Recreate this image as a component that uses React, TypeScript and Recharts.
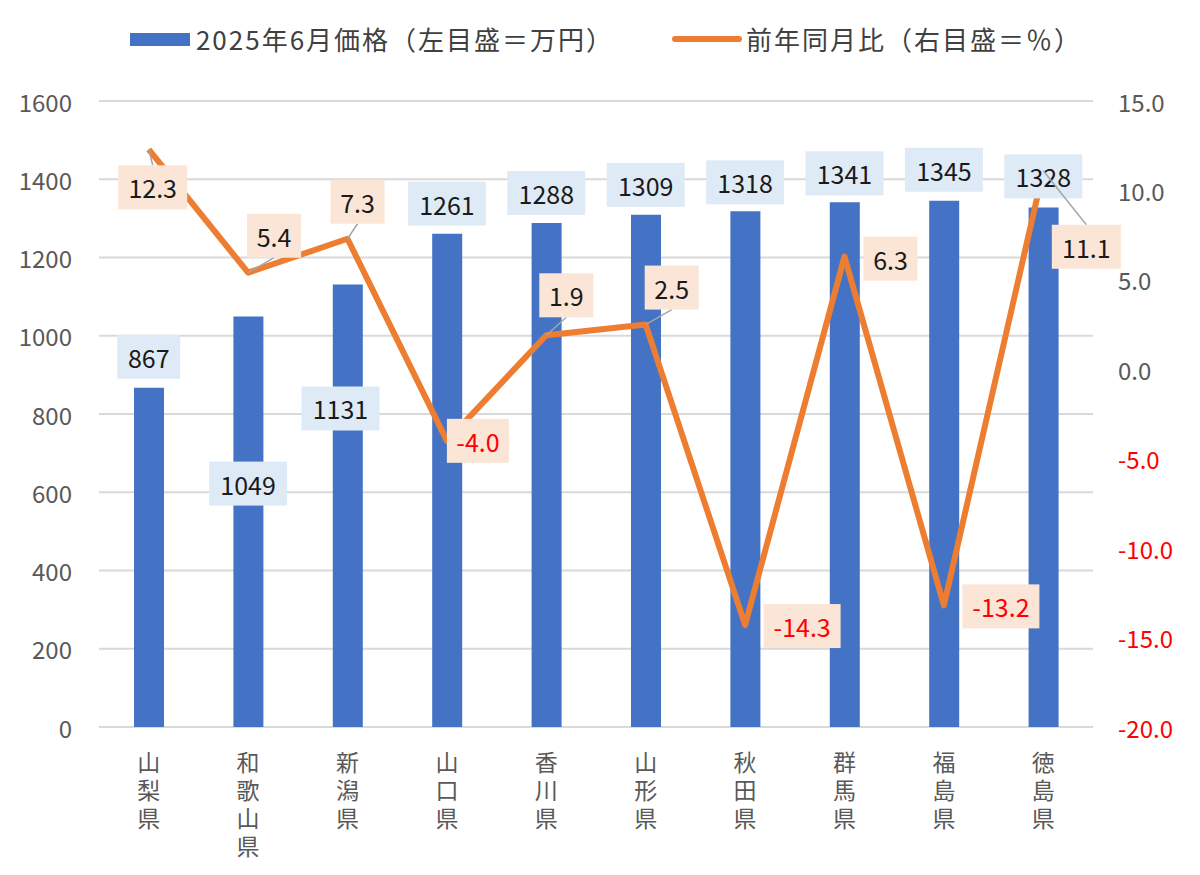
import { ComposedChart, Bar, Line, XAxis, YAxis, CartesianGrid, Legend, LabelList } from "recharts";

const prefectures = ["山梨県", "和歌山県", "新潟県", "山口県", "香川県", "山形県", "秋田県", "群馬県", "福島県", "徳島県"];
const prices = [867, 1049, 1131, 1261, 1288, 1309, 1318, 1341, 1345, 1328];
const yoyChange = [12.3, 5.4, 7.3, -4.0, 1.9, 2.5, -14.3, 6.3, -13.2, 11.1];
const priceTicks = [0, 200, 400, 600, 800, 1000, 1200, 1400, 1600];
const changeTicks = [-20, -15, -10, -5, 0, 5, 10, 15];

// where each data label box sits relative to its point (dx, dy of box centre)
const barLabelOffsets = [[0, -31], [0, 167], [-7, 124], [0, -30], [0, -30], [0, -30], [0, -29], [0, -29], [0, -31], [0, -31]];
const lineLabelOffsets = [[4, 38], [26, -37], [10, -37], [31, 0], [20, -40], [26, -37], [57, 1], [46, 2], [57, 1], [43, 76]];

const data = prefectures.map((name, i) => ({ name, price: prices[i], change: yoyChange[i] }));

const FONT = '"Noto Sans CJK JP", "Noto Sans", sans-serif';
const BLUE = "#4472C4";
const ORANGE = "#ED7D31";
const GREY = "#595959";
const RED = "#FF0000";

function boxWidth(s: string) {
  let w = 18;
  for (const c of s) w += c === "." ? 6 : c === "-" ? 8 : 15;
  return w;
}

function pointOf(props: any) {
  const vb = props.viewBox || {};
  const x = props.x ?? vb.x;
  const y = props.y ?? vb.y;
  return { x: Number(x), y: Number(y) };
}

function LabelBox({ px, py, dx, dy, text, fill, color, leader }: any) {
  const w = boxWidth(text);
  const h = 44;
  const cx = px + dx;
  const cy = py + dy;
  const edgeY = dy > 0 ? cy - h / 2 : cy + h / 2;
  return (
    <g>
      {leader && <line x1={px} y1={py} x2={cx} y2={edgeY} stroke="#A6A6A6" strokeWidth={1.5} />}
      <rect x={cx - w / 2} y={cy - h / 2} width={w} height={h} fill={fill} />
      <text x={cx} y={cy} textAnchor="middle" dominantBaseline="central" fontSize={25} fill={color} fontFamily={FONT}>
        {text}
      </text>
    </g>
  );
}

const BarValueLabel = (props: any) => {
  const { index } = props;
  const p = pointOf(props);
  const [dx, dy] = barLabelOffsets[index];
  return <LabelBox px={p.x} py={p.y} dx={dx} dy={dy} text={String(prices[index])} fill="#DEEBF7" color="#1a1a1a" />;
};

const ChangeLabel = (props: any) => {
  const { index } = props;
  const p = pointOf(props);
  const [dx, dy] = lineLabelOffsets[index];
  const v = yoyChange[index];
  return (
    <LabelBox
      px={p.x}
      py={p.y}
      dx={dx}
      dy={dy}
      text={v.toFixed(1)}
      fill="#FBE5D6"
      color={v < 0 ? RED : "#1a1a1a"}
      leader={Math.abs(dy) > 30}
    />
  );
};

const LeftTick = ({ x, y, payload }: any) => (
  <text x={x - 27} y={y} textAnchor="end" dominantBaseline="central" fontSize={24} fill={GREY} fontFamily={FONT}>
    {payload.value}
  </text>
);

const RightTick = ({ x, y, payload }: any) => (
  <text x={x + 25} y={y} textAnchor="start" dominantBaseline="central" fontSize={24} fill={payload.value < 0 ? RED : GREY} fontFamily={FONT}>
    {Number(payload.value).toFixed(1)}
  </text>
);

// prefecture names are written top-to-bottom (vertical text)
const CategoryTick = ({ x, y, payload }: any) => (
  <text
    x={x}
    y={y + 24}
    textAnchor="start"
    fontSize={23}
    fill={GREY}
    fontFamily={FONT}
    style={{ writingMode: "vertical-rl", letterSpacing: 5 }}
  >
    {payload.value}
  </text>
);

const renderLegend = () => (
  <div
    style={{
      display: "flex",
      justifyContent: "center",
      alignItems: "center",
      gap: 58,
      paddingLeft: 12,
      fontFamily: FONT,
      fontSize: 26,
      letterSpacing: 2,
      lineHeight: "40px",
      color: "#404040",
    }}
  >
    <div style={{ display: "flex", alignItems: "center" }}>
      <span style={{ display: "inline-block", width: 60, height: 13, background: BLUE, marginRight: 6 }} />
      2025年6月価格（左目盛＝万円）
    </div>
    <div style={{ display: "flex", alignItems: "center" }}>
      <span style={{ display: "inline-block", width: 70, height: 6, borderRadius: 3, background: ORANGE, marginRight: 4 }} />
      前年同月比（右目盛＝％）
    </div>
  </div>
);

export default function App() {
  return (
    <div style={{ position: "absolute", left: 0, top: 0, background: "#fff" }}>
      <ComposedChart width={1200} height={875} data={data} margin={{ top: 101, right: 0, bottom: 0, left: 0 }}>
        <CartesianGrid yAxisId="left" vertical={false} stroke="#D9D9D9" strokeWidth={2} />
        <XAxis
          dataKey="name"
          interval={0}
          height={148}
          tickSize={0}
          tickMargin={0}
          tickLine={false}
          axisLine={false}
          tick={<CategoryTick />}
        />
        <YAxis
          yAxisId="left"
          orientation="left"
          width={99}
          domain={[0, 1600]}
          ticks={priceTicks}
          tickSize={0}
          tickMargin={0}
          tickLine={false}
          axisLine={false}
          tick={<LeftTick />}
        />
        <YAxis
          yAxisId="right"
          orientation="right"
          width={107}
          domain={[-20, 15]}
          ticks={changeTicks}
          tickSize={0}
          tickMargin={0}
          tickLine={false}
          axisLine={false}
          tick={<RightTick />}
        />
        <Legend
          verticalAlign="middle"
          align="center"
          content={renderLegend}
          wrapperStyle={{ top: 19, left: 0, width: 1200, height: 40 }}
        />
        <Bar yAxisId="left" dataKey="price" fill={BLUE} barSize={30} isAnimationActive={false} />
        <Line
          yAxisId="right"
          type="linear"
          dataKey="change"
          stroke={ORANGE}
          strokeWidth={6}
          strokeLinejoin="round"
          dot={false}
          activeDot={false}
          isAnimationActive={false}
        />
        <Line
          yAxisId="left"
          dataKey="price"
          stroke="none"
          dot={false}
          activeDot={false}
          legendType="none"
          isAnimationActive={false}
        >
          <LabelList dataKey="price" content={BarValueLabel} />
        </Line>
        <Line
          yAxisId="right"
          dataKey="change"
          stroke="none"
          dot={false}
          activeDot={false}
          legendType="none"
          isAnimationActive={false}
        >
          <LabelList dataKey="change" content={ChangeLabel} />
        </Line>
      </ComposedChart>
    </div>
  );
}
